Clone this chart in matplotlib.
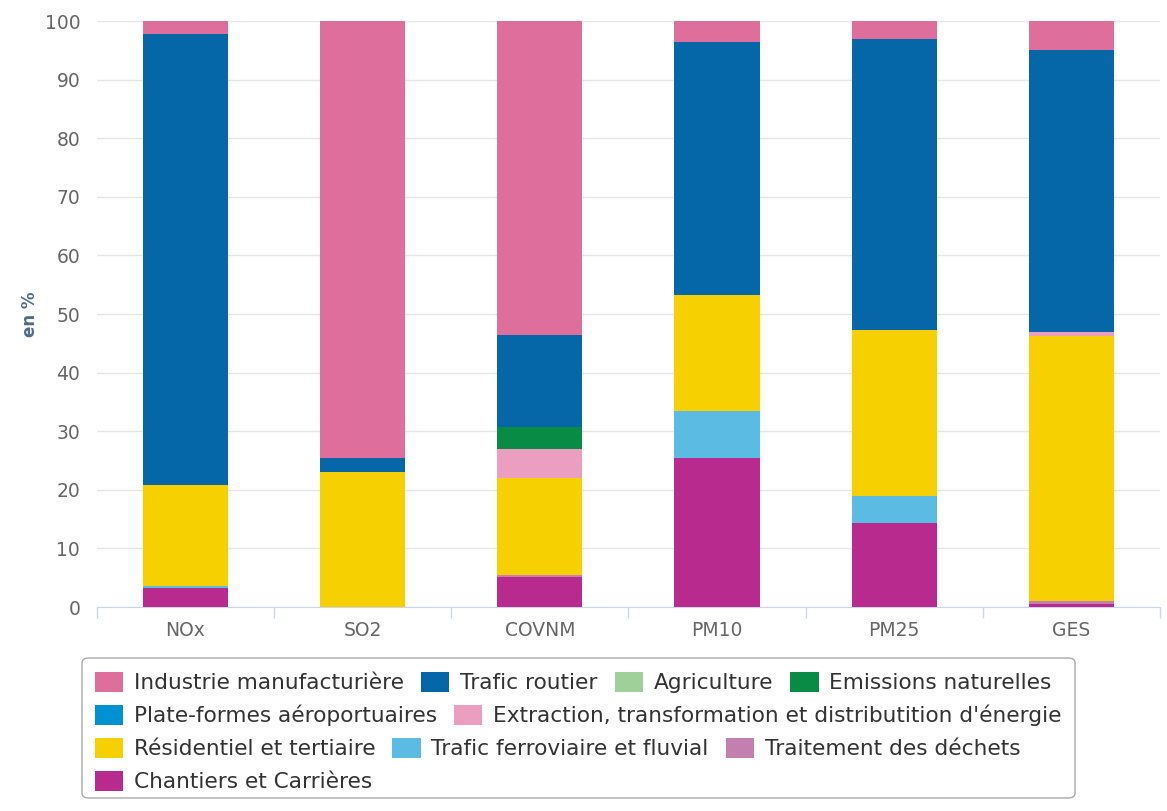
import matplotlib
matplotlib.use('Agg')
import numpy as np
from matplotlib import pyplot as plt
from matplotlib.patches import FancyBboxPatch

polluants = ['NOx', 'SO2', 'COVNM', 'PM10', 'PM25', 'GES']

# secteurs, dans l'ordre de la legende (le premier est en haut de la pile)
secteurs = ['Industrie manufacturière', 'Trafic routier', 'Agriculture',
            'Emissions naturelles', 'Plate-formes aéroportuaires',
            "Extraction, transformation et distributition d'énergie",
            'Résidentiel et tertiaire', 'Trafic ferroviaire et fluvial',
            'Traitement des déchets', 'Chantiers et Carrières']

industrie = [2.2, 74.5, 53.5, 3.6, 3.0, 4.9]
trafic_routier = [76.9, 2.4, 15.7, 43.1, 49.7, 48.2]
agriculture = [0.0, 0.0, 0.0, 0.0, 0.0, 0.0]
emissions_nat = [0.0, 0.0, 3.8, 0.0, 0.0, 0.0]
aeroports = [0.0, 0.0, 0.0, 0.0, 0.0, 0.0]
extraction = [0.0, 0.0, 5.0, 0.0, 0.0, 0.7]
residentiel = [17.3, 23.1, 16.6, 19.8, 28.3, 45.2]
ferroviaire = [0.4, 0.0, 0.0, 8.0, 4.7, 0.0]
dechets = [0.0, 0.0, 0.3, 0.0, 0.0, 0.4]
chantiers = [3.2, 0.0, 5.1, 25.5, 14.3, 0.6]

valeurs = [industrie, trafic_routier, agriculture, emissions_nat, aeroports,
           extraction, residentiel, ferroviaire, dechets, chantiers]
couleurs = ['#de6e9c', '#0567a8', '#9fd09a', '#088c45', '#0091d2',
            '#eb9ebf', '#f6d000', '#5bbbe3', '#c47fb1', '#b82a8e']

fig = plt.figure(figsize=(11.67, 8.11), dpi=100)
ax = fig.add_axes([0.083, 0.2515, 0.911, 0.7225])

x = np.arange(len(polluants))
bas = np.zeros(len(polluants))
handles = {}
# empiler du bas (dernier secteur) vers le haut (premier secteur)
for nom, vals, c in reversed(list(zip(secteurs, valeurs, couleurs))):
    b = ax.bar(x, vals, 0.48, bottom=bas, color=c, linewidth=0, zorder=3)
    handles[nom] = b
    bas += np.array(vals)

ax.set_xlim(-0.5, len(polluants) - 0.5)
ax.set_ylim(0, 100)
ax.set_yticks(range(0, 101, 10))
ax.yaxis.grid(True, color='#e6e6e6', linewidth=1, zorder=0)
ax.set_axisbelow(True)
for s in ['top', 'right', 'left']:
    ax.spines[s].set_visible(False)
ax.spines['bottom'].set_color('#ccd6eb')
ax.tick_params(axis='y', length=0, labelsize=13.5, labelcolor='#666666', pad=12)
ax.set_xticks(x)
ax.set_xticklabels(polluants)
ax.tick_params(axis='x', length=0, labelsize=13.5, labelcolor='#666666', pad=10)
# petites graduations entre categories
ax.set_xticks(np.arange(-0.5, len(polluants), 1.0), minor=True)
ax.tick_params(axis='x', which='minor', length=8, color='#ccd6eb', width=1)
ax.set_ylabel('en %', fontsize=12, fontweight='bold', color='#4d6b8a', labelpad=4)

# legende en lignes (disposition "flux")
lignes = [secteurs[0:4], secteurs[4:6], secteurs[6:9], secteurs[9:10]]
y0 = 1 - 672 / 811
for i, row in enumerate(lignes):
    leg = fig.legend([handles[n] for n in row], row, loc='upper left',
                     bbox_to_anchor=(0.081, y0 - i * 33 / 811), ncol=len(row),
                     frameon=False, fontsize=15.6, handlelength=1.3,
                     handleheight=1.05, handletextpad=0.5, columnspacing=0.8,
                     borderaxespad=0, borderpad=0)
    for t in leg.get_texts():
        t.set_color('#333333')

boite = FancyBboxPatch((82 / 1167, 1 - 798 / 811), (1075 - 82) / 1167, 140 / 811,
                       boxstyle='round,pad=0,rounding_size=0.006',
                       transform=fig.transFigure, facecolor='none',
                       edgecolor='#aaaaaa', linewidth=1)
fig.patches.append(boite)

fig.savefig('out.png', dpi=100)
